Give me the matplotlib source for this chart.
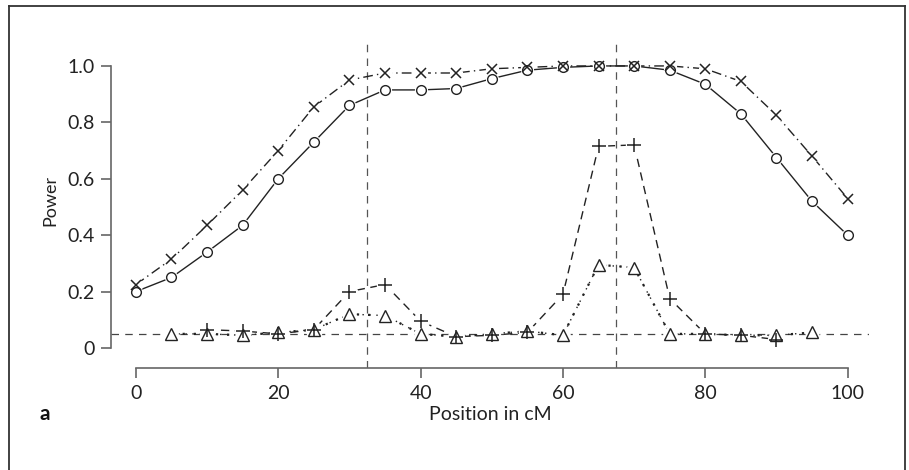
import numpy as np
import matplotlib.pyplot as plt
from matplotlib.lines import Line2D

# ============= data =============
pos = [0, 5, 10, 15, 20, 25, 30, 35, 40, 45, 50, 55, 60, 65, 70, 75, 80, 85, 90, 95, 100]
power_circle = [0.20, 0.25, 0.34, 0.435, 0.60, 0.73, 0.86, 0.915, 0.915, 0.92, 0.955,
                0.985, 0.995, 1.0, 1.0, 0.985, 0.935, 0.83, 0.675, 0.52, 0.40]
power_cross = [0.225, 0.315, 0.435, 0.56, 0.70, 0.855, 0.95, 0.975, 0.975, 0.975, 0.99,
               0.995, 1.0, 1.0, 1.0, 1.0, 0.99, 0.945, 0.825, 0.68, 0.53]

pos_plus = [10, 15, 20, 25, 30, 35, 40, 45, 50, 55, 60, 65, 70, 75, 80, 85, 90]
power_plus = [0.065, 0.06, 0.05, 0.065, 0.20, 0.225, 0.095, 0.04, 0.045, 0.055, 0.19,
              0.715, 0.72, 0.175, 0.05, 0.045, 0.03]

pos_tri = [5, 10, 15, 20, 25, 30, 35, 40, 45, 50, 55, 60, 65, 70, 75, 80, 85, 90, 95]
power_tri = [0.05, 0.05, 0.045, 0.055, 0.065, 0.12, 0.115, 0.05, 0.04, 0.05, 0.06, 0.045,
             0.295, 0.285, 0.05, 0.05, 0.045, 0.045, 0.055]

alpha_level = 0.05
true_loci = [32.5, 67.5]

xticks = [0, 20, 40, 60, 80, 100]
yticks = [0, 0.2, 0.4, 0.6, 0.8, 1.0]
ytick_labels = ['0', '0.2', '0.4', '0.6', '0.8', '1.0']

# ============= plot =============
ink = '#222222'
axis_col = '#666666'
font = ['Lato', 'DejaVu Sans']

fig = plt.figure(figsize=(9.09, 4.70), dpi=100)
ax = fig.add_axes([111 / 909, 1 - 368 / 470, 758 / 909, 328 / 470])
ax.set_xlim(-3.5, 103)
ax.set_ylim(-0.071, 1.092)

# reference lines
ax.axhline(alpha_level, color='#444444', lw=0.9, ls=(0, (6, 5)), zorder=1)
for t in true_loci:
    ax.axvline(t, color='#555555', lw=0.9, ls=(0, (6, 5)), zorder=1)


def series(x, y, ls, marker, ms, mew=1.0):
    ax.plot(x, y, color=ink, lw=1.0, ls=ls, zorder=2)
    # white halo gives the gap around each point
    ax.plot(x, y, ls='none', marker='o', ms=ms + 1.5, mfc='white', mec='white', zorder=3)
    ax.plot(x, y, ls='none', marker=marker, ms=ms, mfc='none', mec=ink, mew=mew, zorder=4)


series(pos, power_circle, '-', 'o', 7)
series(pos, power_cross, (0, (7, 3, 1, 3)), 'x', 7, 1.1)
series(pos_tri, power_tri, (0, (1, 4)), '^', 8)
series(pos_plus, power_plus, (0, (6, 4)), '+', 10, 1.1)
ax.plot(pos_tri, power_tri, ls=(0, (1, 4)), color=ink, lw=1.6, zorder=2.5)

for s in ['top', 'right']:
    ax.spines[s].set_visible(False)
ax.spines['left'].set_bounds(0, 1)
ax.spines['bottom'].set_bounds(0, 100)
for s in ['left', 'bottom']:
    ax.spines[s].set_color(axis_col)
    ax.spines[s].set_linewidth(1.2)

ax.set_xticks(xticks)
ax.set_yticks(yticks)
ax.set_yticklabels(ytick_labels)
ax.tick_params(direction='out', length=7, width=1.2, color=axis_col,
               labelsize=14, labelcolor='#222222', pad=5)
for lab in ax.get_xticklabels() + ax.get_yticklabels():
    lab.set_family(font)

fig.text(50 / 909, 1 - 200 / 470, 'Power', rotation=90, ha='center', va='center',
         fontsize=13, color='#222222', family=font)
fig.text(490 / 909, 1 - 414 / 470, 'Position in cM', ha='center', va='center',
         fontsize=14, color='#222222', family=font)
fig.text(45 / 909, 1 - 414 / 470, 'a', ha='center', va='center', fontsize=15,
         fontweight='bold', color='#111111', family=font)

# outer frame
frame_kw = dict(color='#333333', lw=1.3, transform=fig.transFigure)
fig.add_artist(Line2D([9 / 909, 9 / 909], [0, 1 - 6 / 470], **frame_kw))
fig.add_artist(Line2D([9 / 909, 905 / 909], [1 - 6 / 470, 1 - 6 / 470], **frame_kw))
fig.add_artist(Line2D([905 / 909, 905 / 909], [0, 1 - 6 / 470], **frame_kw))

fig.savefig('out.png', dpi=100)
